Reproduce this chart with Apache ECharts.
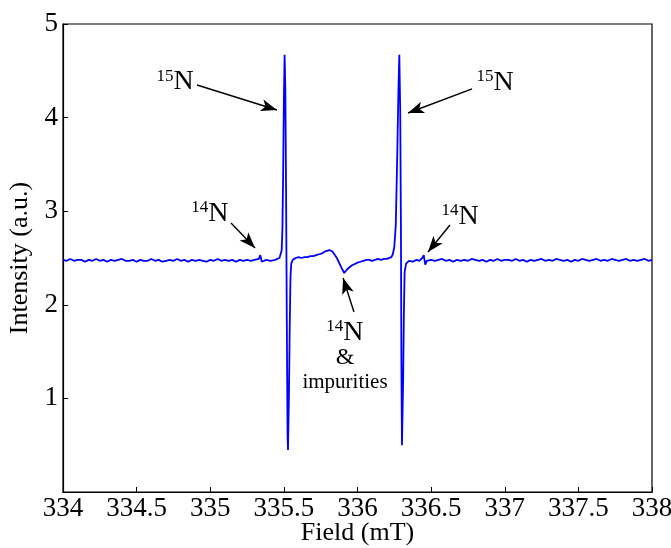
<!DOCTYPE html>
<html>
<head>
<meta charset="utf-8">
<script src="https://cdn.jsdelivr.net/npm/echarts@6/dist/echarts.min.js"></script>
<style>html,body{margin:0;padding:0;background:#fff}#c{width:671px;height:548px}</style>
</head>
<body>
<div id="c"></div>
<script>
// Field values (mT)
var fields = [
334.000,334.025,334.050,334.075,334.100,334.125,334.150,334.175,334.200,334.225,
334.250,334.275,334.300,334.325,334.350,334.375,334.400,334.425,334.450,334.475,
334.500,334.525,334.550,334.575,334.600,334.625,334.650,334.675,334.700,334.725,
334.750,334.775,334.800,334.825,334.850,334.875,334.900,334.925,334.950,334.975,
335.000,335.025,335.050,335.075,335.100,335.125,335.150,335.175,335.200,335.225,
335.250,335.275,335.300,
335.33,335.34,335.35,
335.36,335.38,335.41,335.44,335.47,335.485,335.49,335.495,335.50,335.505,
335.51,335.515,335.52,335.525,335.528,335.535,335.54,335.545,335.55,335.56,
335.58,335.60,335.62,335.64,335.66,335.68,335.70,335.72,335.74,335.76,335.78,335.81,335.83,335.86,335.89,
335.91,335.93,335.96,336.00,336.02,336.04,336.06,336.08,336.10,336.12,336.14,336.16,336.18,336.20,336.23,
336.24,336.25,336.26,336.27,336.278,336.284,336.29,336.295,336.298,336.302,
336.31,336.315,336.32,336.33,336.35,336.375,336.40,336.42,336.44,336.45,336.46,336.47,
336.500,336.525,336.550,336.575,336.600,336.625,336.650,336.675,336.700,336.725,
336.750,336.775,336.800,336.825,336.850,336.875,336.900,336.925,336.950,336.975,
337.000,337.025,337.050,337.075,337.100,337.125,337.150,337.175,337.200,337.225,
337.250,337.275,337.300,337.325,337.350,337.375,337.400,337.425,337.450,337.475,
337.500,337.525,337.550,337.575,337.600,337.625,337.650,337.675,337.700,337.725,
337.750,337.775,337.800,337.825,337.850,337.875,337.900,337.925,337.950,337.975,
338.000
];
// Intensity values (a.u.)
var intensity = [
2.48,2.47,2.49,2.47,2.48,2.48,2.46,2.48,2.47,2.49,
2.47,2.48,2.46,2.48,2.47,2.48,2.49,2.47,2.47,2.48,
2.46,2.48,2.47,2.47,2.49,2.47,2.48,2.46,2.47,2.48,
2.47,2.49,2.47,2.48,2.46,2.48,2.47,2.48,2.47,2.46,
2.48,2.47,2.49,2.47,2.48,2.47,2.48,2.46,2.48,2.47,
2.48,2.47,2.48,
2.49,2.53,2.46,
2.45,2.48,2.47,2.48,2.50,2.58,2.80,3.40,4.20,4.67,
4.30,3.20,1.80,0.60,0.45,1.10,1.80,2.30,2.44,2.48,
2.50,2.51,2.50,2.51,2.51,2.52,2.52,2.53,2.54,2.55,2.57,2.585,2.57,2.50,2.40,
2.34,2.38,2.42,2.45,2.46,2.47,2.48,2.48,2.47,2.48,2.49,2.48,2.49,2.49,2.51,
2.54,2.62,2.85,3.60,4.30,4.67,4.10,2.80,1.40,0.50,
1.20,1.90,2.35,2.44,2.47,2.46,2.48,2.47,2.50,2.53,2.43,2.47,
2.48,2.47,2.48,2.49,2.47,2.48,2.46,2.48,2.47,2.48,
2.47,2.49,2.48,2.47,2.48,2.46,2.48,2.47,2.49,2.47,
2.48,2.48,2.47,2.49,2.47,2.48,2.46,2.48,2.47,2.48,
2.49,2.47,2.48,2.47,2.49,2.48,2.47,2.48,2.46,2.48,
2.47,2.49,2.48,2.47,2.48,2.49,2.47,2.48,2.47,2.49,
2.48,2.47,2.48,2.49,2.47,2.48,2.47,2.48,2.49,2.47,
2.48
];
var xTicks = [334,334.5,335,335.5,336,336.5,337,337.5,338];
var yTicks = [1,2,3,4,5];

// Annotations: [text, field, intensity]
var labelTexts = ['15N','14N','15N','14N','14N','&','impurities'];
var labelField = [334.761,334.998,336.934,336.696,335.915,335.915,335.915];
var labelInt = [4.38,2.97,4.37,2.94,1.70,1.43,1.175];
// Arrows: start/end
var arrowFromX = [334.910,335.141,336.778,336.628,335.976];
var arrowFromY = [4.348,2.874,4.306,2.853,1.923];
var arrowToX = [335.453,335.304,336.343,336.479,335.902];
var arrowToY = [4.081,2.607,4.049,2.564,2.286];

var font = 'Liberation Serif';
var data = fields.map(function(f,i){return [f,intensity[i]];});

var mpData = labelTexts.map(function(t,i){
  var m = t.match(/^(\d+)(N)$/);
  var fmt = m ? '{sup|'+m[1]+'}{n|N}' : (t==='&' ? '{amp|&}' : '{imp|'+t+'}');
  return {coord:[labelField[i],labelInt[i]], label:{formatter:fmt}};
});
var mlData = arrowFromX.map(function(x,i){
  return [{coord:[x,arrowFromY[i]], symbol:'none'},{coord:[arrowToX[i],arrowToY[i]], symbol:'arrow', symbolSize:[9,16]}];
});

var chart = echarts.init(document.getElementById('c'));
chart.setOption({
  animation:false,
  grid:{left:63,right:19,top:24,bottom:56,containLabel:false,outerBoundsMode:'none',
    show:true,borderColor:'#000',borderWidth:1.2,backgroundColor:'transparent'},
  xAxis:{type:'value',min:xTicks[0],max:xTicks[xTicks.length-1],interval:0.5,
    name:'Field (mT)',nameLocation:'middle',nameGap:28,nameMoveOverlap:false,
    nameTextStyle:{fontFamily:font,fontSize:26,color:'#000'},
    axisLine:{show:true,lineStyle:{color:'#000',width:1.2}},
    axisTick:{show:true,inside:true,length:5,lineStyle:{color:'#000'}},
    axisLabel:{fontFamily:font,fontSize:27,color:'#000',margin:3,
      formatter:function(v){return String(v);}},
    splitLine:{show:false}},
  yAxis:{type:'value',min:0,max:5,interval:1,
    name:'Intensity (a.u.)',nameLocation:'middle',nameGap:30,nameMoveOverlap:false,
    nameTextStyle:{fontFamily:font,fontSize:26,color:'#000'},
    axisLine:{show:true,lineStyle:{color:'#000',width:1.2}},
    axisTick:{show:true,inside:true,length:5,lineStyle:{color:'#000'}},
    axisLabel:{fontFamily:font,fontSize:27,color:'#000',margin:5,
      formatter:function(v){return yTicks.indexOf(v)>=0?String(v):'';}},
    splitLine:{show:false}},
  series:[{
    type:'line',data:data,showSymbol:false,symbol:'none',
    lineStyle:{color:'#0000ff',width:1.8},
    markLine:{silent:true,animation:false,
      lineStyle:{color:'#000',width:1.4,type:'solid'},
      label:{show:false},data:mlData},
    markPoint:{silent:true,animation:false,symbol:'circle',symbolSize:0,
      label:{show:true,position:'inside',color:'#000',
        rich:{
          sup:{fontFamily:font,fontSize:17,color:'#000',verticalAlign:'top',padding:[0,0,12,0]},
          n:{fontFamily:font,fontSize:28,color:'#000'},
          amp:{fontFamily:font,fontSize:24,color:'#000'},
          imp:{fontFamily:font,fontSize:21,color:'#000'}
        }},
      data:mpData}
  }]
});
</script>
</body>
</html>
